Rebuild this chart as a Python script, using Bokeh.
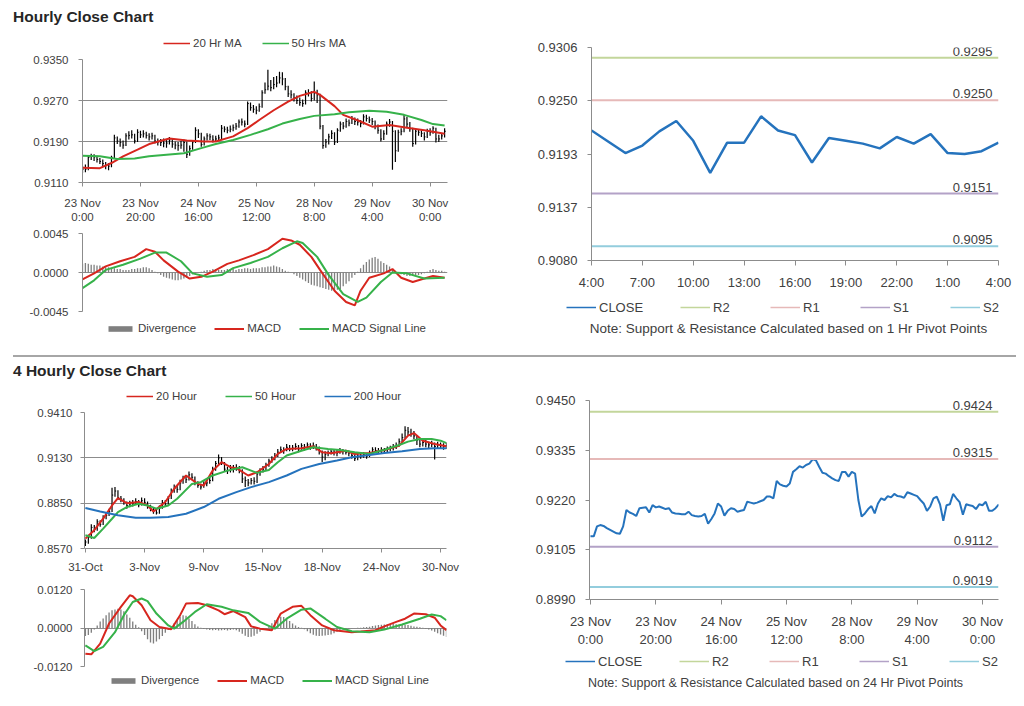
from bokeh.plotting import figure
from bokeh.models import Range1d, FixedTicker, Legend, LegendItem, Div, Label, Spacer
from bokeh.layouts import column, row
from bokeh.embed import file_html
from bokeh.resources import INLINE
from bokeh.core.properties import value

# ---------------- data ----------------
# Hourly chart (23 Nov 0:00 .. 30 Nov ~5:00), one value per hour
hourly_tick_pos = [0, 20, 40, 60, 80, 100, 120]
hourly_tick_labels = ["23 Nov\n0:00", "23 Nov\n20:00", "24 Nov\n16:00", "25 Nov\n12:00",
                      "28 Nov\n8:00", "29 Nov\n4:00", "30 Nov\n0:00"]
hourly_close = [
    0.9136, 0.9136, 0.9159, 0.9162, 0.9160, 0.9155, 0.9151, 0.9147, 0.9143, 0.9142,
    0.9159, 0.9197, 0.9191, 0.9188, 0.9183, 0.9201, 0.9202, 0.9203, 0.9191, 0.9208,
    0.9203, 0.9205, 0.9202, 0.9199, 0.9201, 0.9191, 0.9189, 0.9188, 0.9187, 0.9187,
    0.9193, 0.9185, 0.9183, 0.9182, 0.9183, 0.9188, 0.9165, 0.9176, 0.9189, 0.9212,
    0.9205, 0.9184, 0.9195, 0.9201, 0.9199, 0.9193, 0.9195, 0.9197, 0.9216, 0.9214,
    0.9212, 0.9214, 0.9217, 0.9220, 0.9228, 0.9228, 0.9224, 0.9264, 0.9256, 0.9253,
    0.9251, 0.9258, 0.9285, 0.9291, 0.9298, 0.9295, 0.9301, 0.9304, 0.9314, 0.9312,
    0.9297, 0.9283, 0.9281, 0.9275, 0.9270, 0.9266, 0.9264, 0.9285, 0.9285, 0.9274,
    0.9285, 0.9281, 0.9220, 0.9182, 0.9189, 0.9199, 0.9206, 0.9189, 0.9212, 0.9224,
    0.9220, 0.9229, 0.9226, 0.9234, 0.9229, 0.9228, 0.9225, 0.9238, 0.9235, 0.9232,
    0.9229, 0.9220, 0.9212, 0.9195, 0.9205, 0.9224, 0.9228, 0.9210, 0.9172, 0.9208,
    0.9210, 0.9234, 0.9224, 0.9215, 0.9186, 0.9210, 0.9208, 0.9206, 0.9199, 0.9210,
    0.9208, 0.9216, 0.9195, 0.9195, 0.9201, 0.9210]
hourly_high = [
    0.9142, 0.9145, 0.9163, 0.9166, 0.9165, 0.9162, 0.9158, 0.9155, 0.9150, 0.9148,
    0.9162, 0.9203, 0.9200, 0.9196, 0.9192, 0.9206, 0.9210, 0.9212, 0.9205, 0.9214,
    0.9211, 0.9212, 0.9209, 0.9206, 0.9207, 0.9203, 0.9196, 0.9195, 0.9196, 0.9194,
    0.9199, 0.9196, 0.9190, 0.9189, 0.9191, 0.9194, 0.9190, 0.9182, 0.9193, 0.9218,
    0.9214, 0.9207, 0.9200, 0.9206, 0.9205, 0.9202, 0.9201, 0.9203, 0.9222, 0.9220,
    0.9219, 0.9221, 0.9223, 0.9226, 0.9233, 0.9235, 0.9231, 0.9268, 0.9266, 0.9261,
    0.9259, 0.9264, 0.9290, 0.9305, 0.9330, 0.9310, 0.9316, 0.9318, 0.9326, 0.9325,
    0.9314, 0.9299, 0.9290, 0.9284, 0.9280, 0.9276, 0.9272, 0.9290, 0.9292, 0.9288,
    0.9307, 0.9291, 0.9283, 0.9222, 0.9195, 0.9205, 0.9212, 0.9208, 0.9216, 0.9229,
    0.9228, 0.9235, 0.9233, 0.9240, 0.9237, 0.9235, 0.9232, 0.9243, 0.9242, 0.9239,
    0.9236, 0.9231, 0.9223, 0.9214, 0.9212, 0.9229, 0.9234, 0.9230, 0.9212, 0.9213,
    0.9216, 0.9242, 0.9238, 0.9228, 0.9217, 0.9215, 0.9214, 0.9212, 0.9208, 0.9215,
    0.9216, 0.9220, 0.9217, 0.9203, 0.9206, 0.9216]
hourly_low = [
    0.9128, 0.9130, 0.9134, 0.9154, 0.9152, 0.9149, 0.9146, 0.9141, 0.9136, 0.9134,
    0.9140, 0.9157, 0.9185, 0.9180, 0.9176, 0.9181, 0.9194, 0.9196, 0.9186, 0.9189,
    0.9197, 0.9198, 0.9196, 0.9192, 0.9194, 0.9186, 0.9182, 0.9181, 0.9179, 0.9178,
    0.9184, 0.9178, 0.9175, 0.9172, 0.9176, 0.9170, 0.9158, 0.9162, 0.9174, 0.9187,
    0.9197, 0.9180, 0.9182, 0.9192, 0.9193, 0.9188, 0.9189, 0.9191, 0.9195, 0.9208,
    0.9206, 0.9208, 0.9210, 0.9213, 0.9217, 0.9221, 0.9218, 0.9222, 0.9250, 0.9246,
    0.9243, 0.9248, 0.9256, 0.9283, 0.9290, 0.9288, 0.9292, 0.9296, 0.9303, 0.9300,
    0.9290, 0.9277, 0.9274, 0.9268, 0.9263, 0.9260, 0.9258, 0.9262, 0.9278, 0.9268,
    0.9270, 0.9265, 0.9214, 0.9176, 0.9178, 0.9184, 0.9195, 0.9183, 0.9187, 0.9209,
    0.9214, 0.9217, 0.9220, 0.9224, 0.9222, 0.9221, 0.9218, 0.9223, 0.9229, 0.9226,
    0.9222, 0.9214, 0.9205, 0.9190, 0.9193, 0.9203, 0.9219, 0.9135, 0.9150, 0.9170,
    0.9202, 0.9208, 0.9218, 0.9209, 0.9180, 0.9184, 0.9201, 0.9199, 0.9192, 0.9197,
    0.9201, 0.9205, 0.9188, 0.9189, 0.9194, 0.9198]
hourly_ma20_x = [0, 6, 10, 14, 19, 23, 30, 36, 42, 46, 52, 57, 61, 66, 71, 75, 80, 82, 87, 90, 96, 100, 106, 112, 118, 125]
hourly_ma20 = [0.9139, 0.9138, 0.9148, 0.9161, 0.9174, 0.9185, 0.9196, 0.9192, 0.9190, 0.9190, 0.9200, 0.9216, 0.9232,
               0.9251, 0.9268, 0.9279, 0.9287, 0.9281, 0.9259, 0.9242, 0.9229, 0.9219, 0.9222, 0.9217, 0.9212, 0.9205]
hourly_ma50_x = [0, 6, 12, 18, 23, 29, 35, 41, 46, 52, 58, 64, 69, 75, 80, 87, 92, 99, 105, 111, 117, 121, 125]
hourly_ma50 = [0.9162, 0.9161, 0.9156, 0.9157, 0.9161, 0.9164, 0.9167, 0.9177, 0.9185, 0.9193, 0.9203, 0.9214,
               0.9225, 0.9234, 0.9240, 0.9243, 0.9247, 0.9250, 0.9248, 0.9242, 0.9232, 0.9224, 0.9221]
hourly_price_ticks = [0.9110, 0.9190, 0.9270, 0.9350]
hourly_price_labels = ["0.9110", "0.9190", "0.9270", "0.9350"]

hourly_macd_x = [0, 4, 8, 13, 18, 22, 25, 28, 33, 37, 41, 45, 50, 54, 59, 64, 69, 72, 75, 79, 82, 87, 91, 94, 96,
                 99, 104, 107, 110, 114, 118, 121, 125]
hourly_macd = [-0.0008, -0.0001, 0.0007, 0.0013, 0.0018, 0.0027, 0.0024, 0.0014, 0.0001, -0.0007, -0.0005, 0.0001,
               0.0010, 0.0014, 0.0020, 0.0027, 0.0039, 0.0037, 0.0032, 0.0018, 0.0003, -0.0021, -0.0034, -0.0038,
               -0.0021, -0.0006, -0.0001, 0.0004, -0.0006, -0.0011, -0.0007, -0.0004, -0.0006]
hourly_signal_x = [0, 4, 8, 14, 20, 25, 29, 34, 38, 43, 48, 52, 58, 64, 69, 74, 76, 81, 85, 90, 95, 98, 103, 107,
                   112, 118, 125]
hourly_signal = [-0.0018, -0.0009, 0.0003, 0.0009, 0.0016, 0.0023, 0.0023, 0.0013, -0.0001, -0.0005, -0.0003,
                 0.0005, 0.0011, 0.0018, 0.0028, 0.0036, 0.0034, 0.0018, -0.0003, -0.0025, -0.0034, -0.0029,
                 -0.0011, 0.0000, -0.0001, -0.0007, -0.0006]
hourly_divergence = [
    0.0010, 0.0011, 0.0010, 0.0009, 0.0009, 0.0008, 0.0008, 0.0007, 0.0006,
    0.0006, 0.0005, 0.0005, 0.0004, 0.0004, 0.0003, 0.0003,
    0.0003, 0.0004, 0.0004, 0.0005, 0.0005, 0.0006, 0.0006, 0.0005, 0.0003,
    0.0001, -0.0001, -0.0003, -0.0005, -0.0006, -0.0007,
    -0.0008, -0.0009, -0.0009, -0.0008, -0.0007, -0.0006, -0.0004,
    -0.0002, -0.0001, 0.0000, 0.0001,
    0.0002, 0.0003, 0.0003, 0.0004, 0.0004, 0.0003, 0.0003, 0.0003, 0.0004, 0.0004, 0.0004, 0.0003, 0.0004, 0.0004, 0.0005,
    0.0005, 0.0004, 0.0005, 0.0005, 0.0005, 0.0006, 0.0006, 0.0007, 0.0007, 0.0008, 0.0007, 0.0006, 0.0004, 0.0002, 0.0001, 0.0000,
    -0.0002, -0.0004, -0.0006, -0.0008, -0.0010, -0.0012, -0.0014, -0.0015, -0.0016, -0.0017, -0.0018, -0.0019,
    -0.0020, -0.0021, -0.0021, -0.0020, -0.0019, -0.0016, -0.0013, -0.0010, -0.0006, -0.0003, 0.0001,
    0.0005, 0.0009, 0.0012, 0.0015, 0.0017, 0.0018, 0.0016, 0.0013, 0.0011, 0.0009, 0.0007, 0.0004,
    0.0002, 0.0000, -0.0002, -0.0003, -0.0004, -0.0004, -0.0004, -0.0003, -0.0003, -0.0002, -0.0001,
    0.0001, 0.0003, 0.0004, 0.0003, 0.0002, 0.0002, 0.0001]
hourly_macd_ticks = [-0.0045, 0.0, 0.0045]
hourly_macd_labels = ["-0.0045", "0.0000", "0.0045"]

# 1 Hr pivot chart (last 24 hours)
pivot1_close = [0.9218, 0.9206, 0.9194, 0.9202, 0.9217, 0.9228, 0.9207, 0.9173, 0.9205, 0.9205,
                0.9233, 0.9218, 0.9213, 0.9184, 0.9210, 0.9207, 0.9204, 0.9199, 0.9211, 0.9204,
                0.9214, 0.9194, 0.9193, 0.9196, 0.9205]
pivot1_tick_pos = [0, 3, 6, 9, 12, 15, 18, 21, 24]
pivot1_tick_labels = ["4:00", "7:00", "10:00", "13:00", "16:00", "19:00", "22:00", "1:00", "4:00"]
pivot1_y_ticks = [0.9080, 0.91365, 0.9193, 0.92495, 0.9306]
pivot1_y_labels = ["0.9080", "0.9137", "0.9193", "0.9250", "0.9306"]
pivot1_levels = {"R2": 0.9295, "R1": 0.9250, "S1": 0.9151, "S2": 0.9095}

# 24 Hr pivot chart (hourly close over the week)
pivot24_y_ticks = [0.8990, 0.9105, 0.9220, 0.9335, 0.9450]
pivot24_y_labels = ["0.8990", "0.9105", "0.9220", "0.9335", "0.9450"]
pivot24_levels = {"R2": 0.9424, "R1": 0.9315, "S1": 0.9112, "S2": 0.9019}

# 4 Hourly chart
h4_tick_pos = [0, 20, 40, 60, 80, 100, 120]
h4_tick_labels = ["31-Oct", "3-Nov", "9-Nov", "15-Nov", "18-Nov", "24-Nov", "30-Nov"]
h4_close = [
    0.8610, 0.8640, 0.8700, 0.8690, 0.8735, 0.8720, 0.8760, 0.8775, 0.8800, 0.8900,
    0.8925, 0.8885, 0.8875, 0.8860, 0.8835, 0.8845, 0.8850, 0.8860, 0.8840, 0.8865,
    0.8855, 0.8830, 0.8815, 0.8805, 0.8790, 0.8820, 0.8850, 0.8845, 0.8880, 0.8920,
    0.8940, 0.8935, 0.8975, 0.9000, 0.8995, 0.9025, 0.9010, 0.8975, 0.8960, 0.8950,
    0.8965, 0.8975, 0.8990, 0.9060, 0.9095, 0.9130, 0.9100, 0.9060, 0.9050, 0.9065,
    0.9060, 0.9070, 0.9055, 0.9000, 0.8990, 0.8975, 0.8990, 0.8985, 0.9030, 0.9045,
    0.9060, 0.9085, 0.9110, 0.9120, 0.9140, 0.9165, 0.9180, 0.9175, 0.9195, 0.9185,
    0.9190, 0.9200, 0.9185, 0.9205, 0.9195, 0.9210, 0.9200, 0.9205, 0.9195, 0.9170,
    0.9135, 0.9150, 0.9160, 0.9170, 0.9165, 0.9160, 0.9175, 0.9170, 0.9165, 0.9160,
    0.9145, 0.9125, 0.9140, 0.9145, 0.9150, 0.9140, 0.9155, 0.9180, 0.9175, 0.9170,
    0.9180, 0.9175, 0.9185, 0.9190, 0.9195, 0.9205, 0.9230, 0.9255, 0.9300, 0.9290,
    0.9280, 0.9265, 0.9240, 0.9215, 0.9225, 0.9215, 0.9210, 0.9215, 0.9200, 0.9210,
    0.9205, 0.9200, 0.9205]
h4_high = [
    0.8625, 0.8655, 0.8720, 0.8715, 0.8750, 0.8745, 0.8775, 0.8790, 0.8815, 0.8945,
    0.8950, 0.8930, 0.8895, 0.8880, 0.8860, 0.8865, 0.8870, 0.8880, 0.8870, 0.8885,
    0.8880, 0.8860, 0.8840, 0.8825, 0.8815, 0.8835, 0.8870, 0.8870, 0.8895, 0.8940,
    0.8965, 0.8960, 0.8995, 0.9020, 0.9020, 0.9045, 0.9035, 0.9015, 0.8985, 0.8970,
    0.8985, 0.8995, 0.9010, 0.9075, 0.9110, 0.9150, 0.9135, 0.9105, 0.9075, 0.9085,
    0.9085, 0.9090, 0.9080, 0.9060, 0.9015, 0.9000, 0.9005, 0.9010, 0.9045, 0.9065,
    0.9080, 0.9100, 0.9125, 0.9140, 0.9160, 0.9185, 0.9200, 0.9195, 0.9215, 0.9210,
    0.9210, 0.9220, 0.9210, 0.9220, 0.9215, 0.9225, 0.9220, 0.9225, 0.9215, 0.9200,
    0.9175, 0.9170, 0.9175, 0.9185, 0.9185, 0.9180, 0.9190, 0.9185, 0.9180, 0.9175,
    0.9165, 0.9150, 0.9155, 0.9160, 0.9165, 0.9160, 0.9175, 0.9195, 0.9195, 0.9190,
    0.9195, 0.9190, 0.9200, 0.9205, 0.9215, 0.9225, 0.9250, 0.9280, 0.9325, 0.9320,
    0.9310, 0.9295, 0.9270, 0.9240, 0.9245, 0.9240, 0.9230, 0.9235, 0.9225, 0.9230,
    0.9225, 0.9220, 0.9225]
h4_low = [
    0.8585, 0.8600, 0.8630, 0.8670, 0.8680, 0.8705, 0.8715, 0.8750, 0.8770, 0.8795,
    0.8890, 0.8870, 0.8855, 0.8840, 0.8815, 0.8825, 0.8830, 0.8840, 0.8825, 0.8835,
    0.8835, 0.8815, 0.8800, 0.8785, 0.8780, 0.8785, 0.8815, 0.8830, 0.8840, 0.8875,
    0.8915, 0.8915, 0.8930, 0.8970, 0.8975, 0.8990, 0.8995, 0.8960, 0.8945, 0.8935,
    0.8945, 0.8955, 0.8970, 0.8985, 0.9050, 0.9085, 0.9085, 0.9045, 0.9030, 0.9040,
    0.9040, 0.9050, 0.9035, 0.8975, 0.8950, 0.8955, 0.8965, 0.8965, 0.8975, 0.9020,
    0.9040, 0.9055, 0.9075, 0.9100, 0.9115, 0.9135, 0.9160, 0.9155, 0.9170, 0.9170,
    0.9170, 0.9180, 0.9165, 0.9180, 0.9175, 0.9190, 0.9180, 0.9185, 0.9175, 0.9150,
    0.9105, 0.9115, 0.9140, 0.9150, 0.9145, 0.9140, 0.9155, 0.9150, 0.9150, 0.9140,
    0.9125, 0.9110, 0.9115, 0.9125, 0.9130, 0.9125, 0.9135, 0.9150, 0.9160, 0.9155,
    0.9160, 0.9160, 0.9165, 0.9170, 0.9175, 0.9185, 0.9200, 0.9225, 0.9250, 0.9270,
    0.9260, 0.9245, 0.9210, 0.9195, 0.9200, 0.9195, 0.9190, 0.9195, 0.9120, 0.9185,
    0.9185, 0.9180, 0.9185]
h4_ma20_x = [0, 3, 6, 9, 11, 14, 18, 21, 23, 27, 30, 34, 38, 40, 43, 46, 49, 51, 55, 58, 62, 65, 68, 73, 77, 80,
             83, 88, 91, 96, 101, 106, 109, 111, 114, 118, 122]
h4_ma20 = [0.8631, 0.8683, 0.8754, 0.8836, 0.8881, 0.8850, 0.8857, 0.8836, 0.8799, 0.8857, 0.8939, 0.9021, 0.8969,
           0.8959, 0.9051, 0.9103, 0.9072, 0.9066, 0.9021, 0.9041, 0.9092, 0.9154, 0.9185, 0.9189, 0.9201, 0.9164,
           0.9158, 0.9174, 0.9154, 0.9160, 0.9178, 0.9205, 0.9267, 0.9283, 0.9236, 0.9215, 0.9201]
h4_ma50_x = [0, 3, 6, 9, 11, 14, 18, 21, 24, 28, 31, 36, 39, 43, 48, 53, 56, 58, 62, 65, 68, 73, 77, 82, 86, 91,
             96, 101, 106, 109, 113, 117, 120, 122]
h4_ma50 = [0.8652, 0.8635, 0.8693, 0.8754, 0.8795, 0.8826, 0.8846, 0.8836, 0.8816, 0.8836, 0.8877, 0.8969, 0.8980,
           0.9021, 0.9051, 0.9072, 0.9051, 0.9037, 0.9055, 0.9103, 0.9144, 0.9174, 0.9195, 0.9185, 0.9178, 0.9164,
           0.9154, 0.9180, 0.9209, 0.9230, 0.9246, 0.9246, 0.9236, 0.9221]
h4_ma200_x = [0, 5, 11, 17, 22, 28, 34, 40, 45, 51, 56, 62, 68, 73, 79, 85, 90, 96, 101, 107, 113, 118, 122]
h4_ma200 = [0.8820, 0.8799, 0.8775, 0.8760, 0.8760, 0.8765, 0.8785, 0.8826, 0.8877, 0.8918, 0.8949, 0.8980, 0.9021,
            0.9062, 0.9092, 0.9113, 0.9133, 0.9148, 0.9160, 0.9170, 0.9185, 0.9189, 0.9189]
h4_price_ticks = [0.8570, 0.8850, 0.9130, 0.9410]
h4_price_labels = ["0.8570", "0.8850", "0.9130", "0.9410"]

h4_macd_x = [0, 2, 5, 8, 12, 15, 16, 19, 22, 25, 29, 32, 34, 38, 41, 45, 47, 50, 54, 56, 59, 63, 66, 70, 73, 76,
             80, 84, 90, 93, 98, 101, 105, 108, 111, 115, 118, 120, 122]
h4_macd = [-0.0080, -0.0082, -0.0049, 0.0014, 0.0066, 0.0102, 0.0099, 0.0071, 0.0024, 0.0003, -0.0004, 0.0040,
           0.0076, 0.0078, 0.0071, 0.0055, 0.0043, 0.0053, 0.0034, 0.0005, -0.0002, -0.0007, 0.0045, 0.0066, 0.0069,
           0.0040, 0.0008, -0.0007, -0.0013, -0.0011, -0.0007, 0.0005, 0.0019, 0.0029, 0.0045, 0.0043, 0.0032,
           0.0008, -0.0007]
h4_signal_x = [0, 3, 6, 10, 13, 16, 19, 21, 24, 28, 30, 33, 37, 41, 46, 50, 55, 59, 64, 68, 73, 76, 81, 85, 90, 96,
               101, 107, 113, 117, 120, 122]
h4_signal = [-0.0054, -0.0072, -0.0059, -0.0013, 0.0040, 0.0081, 0.0092, 0.0084, 0.0045, 0.0008, -0.0002, 0.0019,
             0.0050, 0.0074, 0.0066, 0.0055, 0.0047, 0.0019, -0.0002, 0.0029, 0.0057, 0.0061, 0.0029, 0.0003,
             -0.0010, -0.0013, -0.0005, 0.0011, 0.0029, 0.0042, 0.0037, 0.0024]
h4_divergence = [
    -0.0025, -0.0022, -0.0015,
    -0.0005, 0.0008, 0.0020, 0.0030, 0.0040, 0.0048, 0.0055, 0.0058, 0.0060, 0.0058, 0.0052,
    0.0042, 0.0032, 0.0020, 0.0010, 0.0002,
    -0.0010, -0.0022, -0.0035, -0.0045, -0.0048, -0.0042, -0.0035, -0.0025, -0.0015, -0.0006,
    0.0005, 0.0015, 0.0025, 0.0035, 0.0040, 0.0038, 0.0030, 0.0022, 0.0012, 0.0005, 0.0001,
    -0.0003, -0.0005, -0.0006, -0.0007, -0.0006, -0.0008, -0.0007, -0.0006, -0.0008, -0.0006, -0.0005,
    -0.0007, -0.0012, -0.0018, -0.0024, -0.0028, -0.0027, -0.0024, -0.0018, -0.0012, -0.0006, -0.0002,
    0.0005, 0.0015, 0.0025, 0.0032, 0.0035, 0.0034, 0.0030, 0.0022, 0.0014, 0.0008, 0.0003, 0.0001,
    -0.0004, -0.0010, -0.0016, -0.0021, -0.0024, -0.0025, -0.0024, -0.0023, -0.0022, -0.0020, -0.0016, -0.0012,
    -0.0008, -0.0005, -0.0003,
    -0.0002, -0.0001, 0.0000, 0.0001, 0.0001, 0.0002, 0.0003, 0.0004, 0.0006,
    0.0008, 0.0009, 0.0010, 0.0011, 0.0012, 0.0012, 0.0013, 0.0012, 0.0011, 0.0012, 0.0010, 0.0009, 0.0007,
    0.0005, 0.0004, 0.0002, 0.0001, -0.0002, -0.0005, -0.0008, -0.0012, -0.0016, -0.0020, -0.0024, -0.0028]
h4_macd_ticks = [-0.0120, 0.0, 0.0120]
h4_macd_labels = ["-0.0120", "0.0000", "0.0120"]

# ---------------- style ----------------
FONT = "Liberation Sans"
TXT = "#404040"
GRID = "#8c8c8c"
RED = "#d7261e"
GREEN = "#36b24a"
BLUE = "#2573bd"
BAR_GRAY = "#7f7f7f"
LEVEL_COLORS = {"R2": "#c3d69b", "R1": "#e6b9b8", "S1": "#b3a2c7", "S2": "#93cddd"}
FS = "11.5px"      # left-hand charts
FS_R = "13px"      # right-hand pivot charts


def base(w, h, l, r, t, b, xr, yr, xaxis=True, ystand=10, xstand=8, xtick=4, fs=FS):
    kw = dict(width=w, height=h, x_range=Range1d(*xr), y_range=Range1d(*yr),
              output_backend="svg", toolbar_location=None,
              min_border_left=l, min_border_right=r, min_border_top=t, min_border_bottom=b)
    if not xaxis:
        kw["x_axis_location"] = None
    p = figure(**kw)
    p.outline_line_color = None
    for ax in p.axis:
        ax.major_label_text_font = FONT
        ax.major_label_text_font_size = fs
        ax.major_label_text_color = TXT
        ax.axis_line_color = GRID
        ax.major_tick_line_color = GRID
        ax.minor_tick_line_color = None
        ax.major_tick_in = 0
        ax.major_tick_out = 4
    p.yaxis.major_label_standoff = ystand
    if xaxis:
        p.xaxis.major_label_standoff = xstand
        p.xaxis.major_tick_out = xtick
    p.xgrid.grid_line_color = None
    p.ygrid.grid_line_color = None
    return p


def set_yticks(p, ticks, labels, grid=False):
    p.yaxis.ticker = FixedTicker(ticks=ticks)
    p.yaxis.major_label_overrides = dict(zip(ticks, labels))
    if grid:
        p.ygrid.grid_line_color = GRID


def set_xticks(p, ticks, labels):
    p.xaxis.ticker = FixedTicker(ticks=ticks)
    p.xaxis.major_label_overrides = dict(zip(ticks, labels))


def strip(w, h):
    s = figure(width=w, height=h, x_range=Range1d(0, 1), y_range=Range1d(0, 1),
               output_backend="svg", toolbar_location=None, frame_align=False,
               x_axis_location=None, y_axis_location=None, min_border=0)
    s.outline_line_color = None
    s.xgrid.grid_line_color = None
    s.ygrid.grid_line_color = None
    return s


def legend_strip(w, h, entries, loc, spacing, glyph_w=28, glyph_h=16, note=None, fs=FS):
    """entries: (label, kind, color, width); proxies sit outside the strip's visible range."""
    s = strip(w, h)
    items = []
    for label, kind, color, lw in entries:
        if kind == "bar":
            r = s.vbar(x=[5], top=[6], bottom=[5], width=0.5, fill_color=color, line_color=None)
        else:
            r = s.line(x=[5, 6], y=[5, 5], line_color=color, line_width=lw)
        items.append(LegendItem(label=label, renderers=[r]))
    lg = Legend(items=items, orientation="horizontal", location=loc,
                label_text_font=FONT, label_text_font_size=fs, label_text_color=TXT,
                glyph_width=glyph_w, glyph_height=glyph_h, label_height=16,
                label_standoff=3, spacing=spacing, padding=0, margin=0,
                border_line_color=None, background_fill_alpha=0)
    s.add_layout(lg)
    if note is not None:
        text, nx, ny, nfs = note
        s.add_layout(Label(x=nx, y=ny, x_units="screen", y_units="screen", text=text,
                           text_align="center", text_baseline="middle", text_font=FONT,
                           text_font_size=nfs, text_color=TXT))
    return s


def price_chart(w, h, l, r, t, b, xr, yr, ticks, tlabels, xticks, xlabels, hi, lo, close, ystand, xstand):
    p = base(w, h, l, r, t, b, xr, yr, ystand=ystand, xstand=xstand)
    set_yticks(p, ticks, tlabels, grid=True)
    set_xticks(p, xticks, xlabels)
    idx = list(range(len(hi)))
    p.segment(x0=idx, y0=lo, x1=idx, y1=hi, line_color="black", line_width=1.2)
    p.segment(x0=idx, y0=close, x1=[i + 0.4 for i in idx], y1=close, line_color="black", line_width=1)
    return p


def macd_chart(w, h, l, r, t, b, xr, yr, ticks, tlabels, div, mx, my, sx, sy, ystand):
    p = base(w, h, l, r, t, b, xr, yr, xaxis=False, ystand=ystand)
    set_yticks(p, ticks, tlabels, grid=True)
    p.vbar(x=list(range(len(div))), top=div, bottom=0, width=0.45, fill_color=BAR_GRAY, line_color=None)
    p.line(mx, my, line_color=RED, line_width=2)
    p.line(sx, sy, line_color=GREEN, line_width=2)
    return p


def pivot_chart(w, h, l, r, t, b, xr, yr, yticks, ylabels, xticks, xlabels, cx, cy, levels, lw, xstand):
    p = base(w, h, l, r, t, b, xr, yr, ystand=10, xstand=xstand, xtick=5, fs=FS_R)
    set_yticks(p, yticks, ylabels)
    set_xticks(p, xticks, xlabels)
    p.line(cx, cy, line_color=BLUE, line_width=lw)
    names = ["R2", "R1", "S1", "S2"]
    for name in names:
        v = levels[name]
        p.line([xr[0], xr[1]], [v, v], line_color=LEVEL_COLORS[name], line_width=2)
    p.text(x=[xr[1]] * 4, y=[levels[n] for n in names], text=["%.4f" % levels[n] for n in names],
           text_align="right", text_baseline="bottom", x_offset=-6, y_offset=-2,
           text_font=value(FONT), text_font_size=FS_R, text_color=TXT)
    return p


def title_div(text, h, mt):
    html = ('<div style="font-family:\'Liberation Sans\',Arial,sans-serif;font-weight:bold;'
            'font-size:15.5px;color:#262626;white-space:nowrap;margin:%dpx 0 0 5px;">%s</div>' % (mt, text))
    return Div(text=html, width=1008, height=h, margin=0)


def sep_div(h, mt):
    html = '<div style="margin:%dpx 0 0 5px;height:2px;width:1003px;background:#a6a6a6;"></div>' % mt
    return Div(text=html, width=1008, height=h, margin=0)


macd_entries = [("Divergence", "bar", BAR_GRAY, 1), ("MACD", "line", RED, 2), ("MACD Signal Line", "line", GREEN, 2)]
pivot_entries = [("CLOSE", "line", BLUE, 1.5), ("R2", "line", LEVEL_COLORS["R2"], 1.5),
                 ("R1", "line", LEVEL_COLORS["R1"], 1.5), ("S1", "line", LEVEL_COLORS["S1"], 1.5),
                 ("S2", "line", LEVEL_COLORS["S2"], 1.5)]

# ---------------- section 1: hourly ----------------
legA = legend_strip(472, 24, [("20 Hr MA", "line", RED, 1.5), ("50 Hrs MA", "line", GREEN, 1.5)],
                    (155, 0), 20, glyph_w=27)
pA = price_chart(472, 174, 74, 33, 8, 42, (0, 126), (0.9110, 0.9350), hourly_price_ticks, hourly_price_labels,
                 hourly_tick_pos, hourly_tick_labels, hourly_high, hourly_low, hourly_close, 10, 10)
pA.line(hourly_ma20_x, hourly_ma20, line_color=RED, line_width=2)
pA.line(hourly_ma50_x, hourly_ma50, line_color=GREEN, line_width=2)

pB = macd_chart(472, 94, 74, 33, 8, 8, (0, 126), (-0.0045, 0.0045), hourly_macd_ticks, hourly_macd_labels,
                hourly_divergence, hourly_macd_x, hourly_macd, hourly_signal_x, hourly_signal, 10)
legB = legend_strip(472, 26, macd_entries, (97, 9), 18, glyph_w=30, glyph_h=7)

pC = pivot_chart(536, 265, 111, 18, 20, 30, (0, 24), (0.9080, 0.9306), pivot1_y_ticks, pivot1_y_labels,
                 pivot1_tick_pos, pivot1_tick_labels, list(range(len(pivot1_close))), pivot1_close,
                 pivot1_levels, 2.5, 9)
legC = legend_strip(536, 53, pivot_entries, (86, 30), 37, glyph_w=30, fs=FS_R,
                    note=("Note: Support & Resistance Calculated based on 1 Hr Pivot Points", 308, 17, "13.5px"))

# ---------------- section 2: 4 hourly ----------------
legD = legend_strip(472, 20, [("20 Hour", "line", RED, 1.5), ("50 Hour", "line", GREEN, 1.5),
                              ("200 Hour", "line", BLUE, 1.5)], (118, 0), 28, glyph_w=27)
pD = price_chart(472, 176, 76, 34, 8, 32, (-0.3, 122), (0.8570, 0.9410), h4_price_ticks, h4_price_labels,
                 h4_tick_pos, h4_tick_labels, h4_high, h4_low, h4_close, 8, 8)
pD.line(h4_ma20_x, h4_ma20, line_color=RED, line_width=2)
pD.line(h4_ma50_x, h4_ma50, line_color=GREEN, line_width=2)
pD.line(h4_ma200_x, h4_ma200, line_color=BLUE, line_width=2)

pE = macd_chart(472, 92, 76, 34, 9, 6, (-0.3, 122), (-0.0120, 0.0120), h4_macd_ticks, h4_macd_labels,
                h4_divergence, h4_macd_x, h4_macd, h4_signal_x, h4_signal, 8)
legE = legend_strip(472, 25, macd_entries, (100, 9), 18, glyph_w=30, glyph_h=7)

pF = pivot_chart(536, 265, 109, 18, 16, 49, (-0.3, 124.9), (0.8990, 0.9450), pivot24_y_ticks, pivot24_y_labels,
                 hourly_tick_pos, hourly_tick_labels, list(range(len(hourly_close))), hourly_close,
                 pivot24_levels, 2, 9)
legF = legend_strip(536, 48, pivot_entries, (85, 28), 37, glyph_w=30, fs=FS_R,
                    note=("Note: Support & Resistance Calculated based on 24 Hr Pivot Points", 295, 15, "12.5px"))

content = column(
    title_div("Hourly Close Chart", 27, 6),
    row(column(legA, pA, pB, legB), column(pC, legC)),
    sep_div(8, 6),
    title_div("4 Hourly Close Chart", 31, 7),
    row(column(legD, pD, pE, legE), column(pF, legF)),
    sep_div(8, 5),
)
page = row(Spacer(width=8, height=705), content)

open("out.html", "w").write(file_html(page, INLINE))
